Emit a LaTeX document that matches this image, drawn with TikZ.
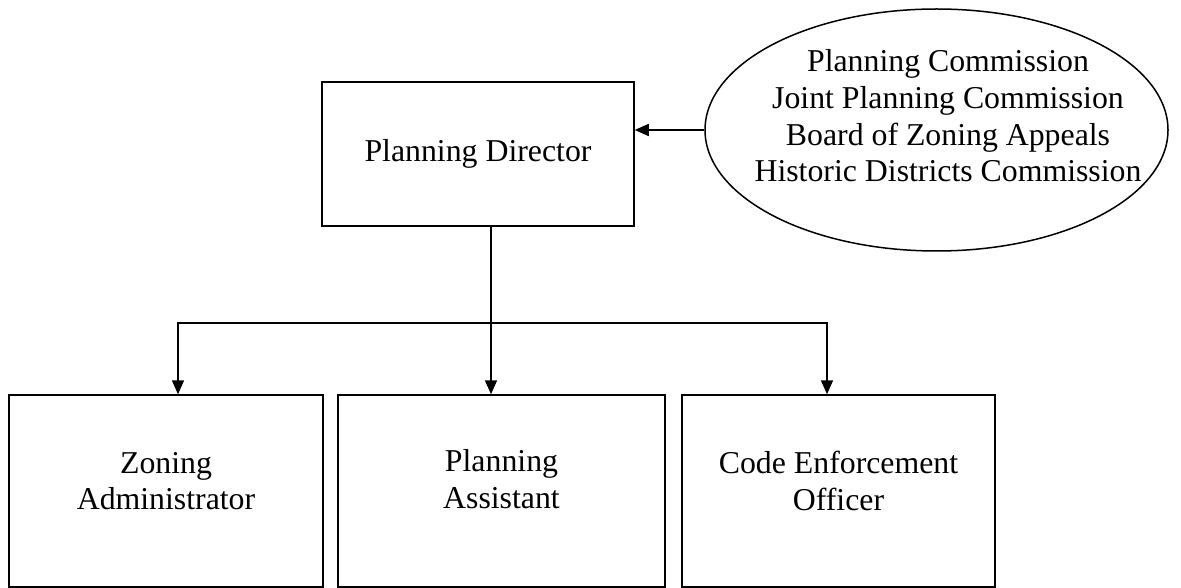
\documentclass[tikz,border=0pt]{standalone}
\usepackage{fontspec}
\setmainfont{Liberation Serif}
\usetikzlibrary{shapes.geometric,arrows.meta}
\begin{document}
\begin{tikzpicture}[x=1pt,y=-1pt,
  every node/.style={font=\fontsize{31.8}{36.7}\selectfont},
  box/.style={draw, line width=1.5pt, inner sep=0pt, align=center},
  lbl/.style={align=center, inner sep=0pt},
  conn/.style={line width=1.5pt},
  arr/.style={line width=1.5pt, -{Triangle[width=12pt,length=14pt]}}]
\useasboundingbox (0,0) rectangle (1181,588);
\fill[white] (0,0) rectangle (1181,588);
% top boxes
\node[box, minimum width=312pt, minimum height=144pt] (pd) at (478,154) {Planning Director};
\node[draw, ellipse, line width=1.5pt, inner sep=0pt, minimum width=463pt, minimum height=242pt] (e) at (936.5,130) {};
\node[lbl] (et) at (948,116) {Planning Commission\\Joint Planning Commission\\Board of Zoning Appeals\\Historic Districts Commission};
% bottom boxes
\node[box, minimum width=314pt, minimum height=192pt] (za) at (166,491) {};
\node[lbl] (zat) at (166,481) {Zoning\\Administrator};
\node[box, minimum width=327pt, minimum height=192pt] (pa) at (501.5,491) {};
\node[lbl] (pat) at (501.5,479) {Planning\\Assistant};
\node[box, minimum width=313pt, minimum height=192pt] (ce) at (838.5,491) {};
\node[lbl] (cet) at (838.5,481) {Code Enforcement\\Officer};
% junctions
\coordinate (j) at (491,323);
\coordinate (jl) at (178,323);
\coordinate (jr) at (827,323);
% connectors
\draw[arr] (e.west) -- (e.west -| pd.east);
\draw[conn] (pd.south -| j) -- (j);
\draw[arr] (j) -- (pa.north -| j);
\draw[arr] (j) -- (jl) -- (za.north -| jl);
\draw[arr] (j) -- (jr) -- (ce.north -| jr);
\end{tikzpicture}
\end{document}
